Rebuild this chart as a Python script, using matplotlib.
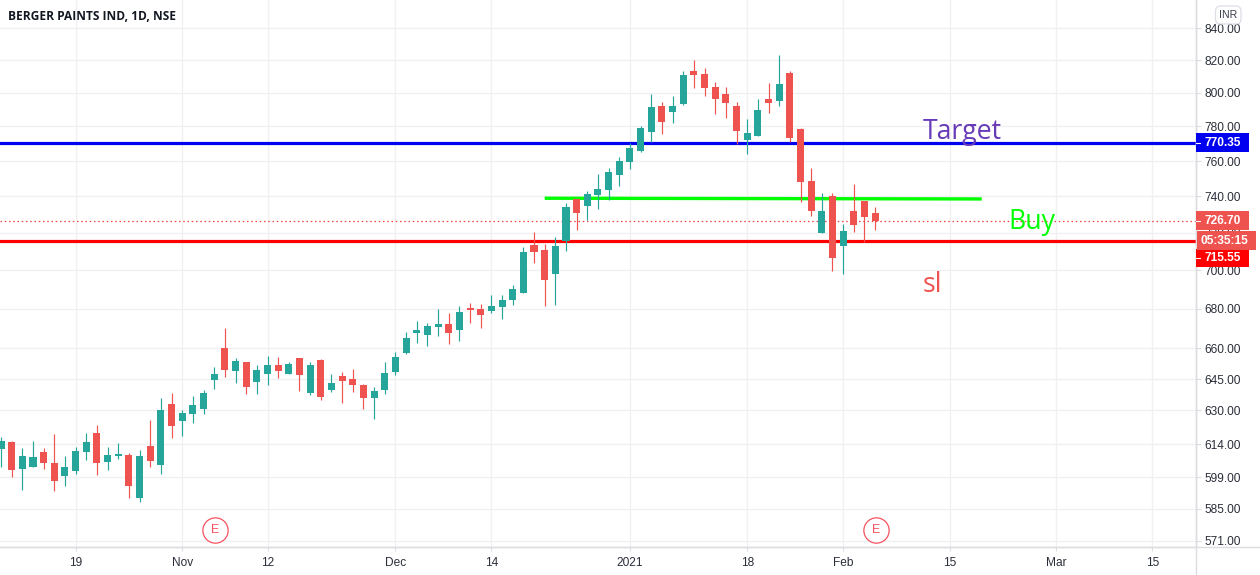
import matplotlib
matplotlib.use("Agg")
import matplotlib.pyplot as plt
from matplotlib.patches import FancyBboxPatch, Rectangle
from matplotlib.ticker import NullLocator, NullFormatter

# ---- data (INR) ----
highs = [617.6,615.7,612.5,615.7,612.5,619.0,608.8,612.9,619.5,623.2,612.9,614.8,610.1,611.5,625.5,635.9,638.3,630.2,636.8,639.8,
         650.9,670.4,655.3,653.4,651.9,656.3,655.8,653.4,655.3,653.4,654.8,647.5,648.5,650.0,642.7,641.2,653.4,658.2,668.3,673.9,
         672.8,679.9,677.9,681.5,683.0,682.5,687.1,687.1,692.4,712.5,720.6,714.1,717.9,736.4,738.6,743.1,752.7,756.1,762.3,770.4,
         780.4,799.2,794.5,798.1,813.4,820.1,815.2,806.7,803.6,794.5,784.5,796.3,806.1,823.2,813.4,779.2,756.1,742.0,742.0,725.0,
         747.1,737.5,734.2]
body_tops = [615.7,615.2,608.8,608.3,610.6,605.7,603.8,611.0,615.2,619.5,609.2,609.7,609.2,608.8,613.4,630.2,633.0,628.8,632.6,638.3,
             647.5,660.2,653.9,653.4,649.5,651.9,651.9,652.4,655.3,651.9,654.3,643.2,646.6,645.1,642.2,639.3,648.0,655.8,665.2,669.3,
             671.3,672.3,672.3,678.4,680.4,679.9,681.5,684.5,690.3,709.8,713.6,710.8,713.0,734.2,738.6,741.4,744.2,753.8,760.1,767.5,
             779.2,791.6,792.2,792.2,811.0,813.4,811.6,803.6,799.2,792.2,776.3,789.8,796.3,805.5,812.2,778.6,748.8,732.0,740.3,721.1,
             732.0,737.5,730.9]
body_bottoms = [612.0,602.4,602.9,603.8,605.7,597.5,599.7,602.0,610.6,605.7,606.1,608.8,595.2,589.7,606.5,604.7,622.7,625.1,628.3,630.7,
                644.6,649.5,649.0,641.2,643.6,647.5,649.0,647.5,647.0,638.3,636.3,639.8,644.1,642.2,635.9,635.9,639.8,648.5,657.7,667.8,
                666.8,670.8,667.8,669.3,679.4,676.9,678.9,681.0,684.5,688.2,709.8,695.1,698.2,715.7,730.9,734.7,740.8,743.7,752.2,759.5,
                765.7,776.9,782.8,788.6,793.3,811.0,803.1,796.3,793.9,777.5,772.2,774.5,793.9,795.1,773.4,748.2,732.0,720.0,706.6,713.0,
                724.4,728.8,726.6]
lows = [603.8,599.2,593.4,603.8,602.9,592.9,595.2,600.6,607.0,600.2,602.4,607.4,589.7,588.0,603.8,600.6,617.1,618.1,624.1,628.3,
        640.3,646.1,643.2,637.8,637.8,642.2,645.6,647.5,639.3,637.3,634.9,638.8,633.5,638.8,630.7,626.0,637.8,647.0,657.3,662.7,
        661.2,666.3,662.2,663.7,672.8,670.3,677.9,674.9,682.0,688.2,704.0,681.5,682.0,710.3,721.7,727.1,733.1,738.0,745.9,755.6,
        765.2,770.9,775.7,782.2,792.8,803.1,798.1,787.5,785.1,769.7,764.0,774.5,788.1,792.2,770.9,736.9,729.3,720.0,699.8,698.3,
        720.6,715.3,721.7]
falling = [0,1,0,0,1,1,0,0,0,1,0,0,1,0,1,0,1,0,0,0,
           0,1,0,1,0,0,1,0,1,0,1,0,1,1,1,0,0,0,0,0,
           0,0,1,0,1,1,0,0,0,0,1,1,0,0,1,0,0,0,0,0,
           0,0,1,0,0,1,1,1,1,1,0,0,1,0,1,1,1,0,1,0,
           1,1,1]

price_ticks = [840,820,800,780,760,740,720,700,680,660,645,630,614,599,585,571]
date_positions = [7,17,25,37,46,59,70,79,89,99,108]
date_labels = ['19','Nov','12','Dec','14','2021','18','Feb','15','Mar','15']
target_price = 770.35
stop_price = 715.55
last_price = 726.70
buy_line_x = [51, 92]
buy_line_y = [739.0, 738.6]
earnings_x = [20.07, 82.08]
earnings_y = [575.7, 575.7]

UP, DOWN = '#26a69a', '#ef5350'
GRID, AXIS, TXT = '#f0f0f2', '#dcdde0', '#2a2e39'
W, H = 1260, 575
FONT = 'Liberation Sans'

fig = plt.figure(figsize=(W/100, H/100), dpi=100, facecolor='white')
ax = fig.add_axes([0, (H-547)/H, 1196/W, 547/H])
ax.set_yscale('log')
ax.set_xlim(-0.094, 112.1)
ax.set_ylim(568.4, 857.9)
ax.yaxis.tick_right()
ax.yaxis.set_minor_locator(NullLocator())
ax.yaxis.set_minor_formatter(NullFormatter())
ax.set_yticks(price_ticks, [f'{p:.2f}' for p in price_ticks], fontname=FONT, fontsize=8.6, color=TXT)
ax.set_xticks(date_positions, date_labels, fontname=FONT, fontsize=8.6, color=TXT)
ax.tick_params(axis='y', length=3.6, width=0.8, color=AXIS, pad=2.5)
ax.tick_params(axis='x', length=3, width=0.8, color=AXIS, pad=4.2)
ax.grid(True, color=GRID, lw=1.0, zorder=0)
ax.set_axisbelow(True)
for s in ('top', 'left'):
    ax.spines[s].set_visible(False)
for s in ('bottom', 'right'):
    ax.spines[s].set_color(AXIS)
    ax.spines[s].set_linewidth(1.0)
# axis lines run on to the picture edges
fig.add_artist(plt.Line2D([0, 1], [(H-547)/H]*2, color=AXIS, lw=1.0))
fig.add_artist(plt.Line2D([1196/W]*2, [0, 1], color=AXIS, lw=1.0))

# drawn levels
ax.axhline(target_price, color='#0000f0', lw=2.3, zorder=2)
ax.axhline(stop_price, color='#ff0000', lw=2.3, zorder=2)
ax.axhline(last_price, color='#f0403c', lw=0.9, ls=(0, (1.2, 2.2)), zorder=2)
ax.plot(buy_line_x, buy_line_y, color='#00ff00', lw=2.4, zorder=2, solid_capstyle='butt')

# candles
xs = list(range(len(highs)))
colors = [DOWN if f else UP for f in falling]
ax.vlines(xs, lows, highs, colors=colors, lw=0.85, zorder=3)
ax.bar(xs, [t-b for t, b in zip(body_tops, body_bottoms)], bottom=body_bottoms,
       width=0.66, color=colors, linewidth=0, zorder=4)

# earnings marks
ax.plot(earnings_x, earnings_y, ls='none', marker='o', ms=18.2, mfc='white', mec='#f7525f', mew=0.9, zorder=5, clip_on=False)
for ex, ey in zip(earnings_x, earnings_y):
    ax.text(ex, ey, 'E', color='#f7525f', ha='center', va='center', fontsize=9, fontname=FONT, zorder=6)

def px(x, y):
    return x/W, 1-y/H

# annotations
fig.text(*px(8, 17), 'BERGER PAINTS IND, 1D, NSE', family='Open Sans', weight='bold', fontsize=8.6,
         color='#131722', ha='left', va='center')
fig.text(*px(923, 139.5), 'Target', family='Open Sans', fontsize=19.2, color='#673ab7', ha='left', va='baseline')
fig.text(*px(1008, 229.5), 'Buy', family='Open Sans', fontsize=19.2, color='#00ff00', ha='left', va='baseline')
fig.text(*px(923, 292), 'sl', family='Open Sans', fontsize=19.2, color=DOWN, ha='left', va='baseline')

# price labels on the scale
def tag(x0, x1, y0, y1, color, label, tick=True, cx=None):
    fig.add_artist(Rectangle((x0/W, 1-y1/H), (x1-x0)/W, (y1-y0)/H, transform=fig.transFigure,
                             facecolor=color, edgecolor='none', zorder=10))
    if tick:
        fig.add_artist(plt.Line2D([x0/W, (x0+4)/W], [1-(y0+y1)/2/H]*2, color='white', lw=0.8, zorder=11))
    fig.text((cx if cx else (x0+x1)/2)/W, 1-(y0+y1)/2/H, label, color='white', weight='bold', fontname=FONT,
             fontsize=8.6, ha='center', va='center', zorder=12)

tag(1196, 1249, 133, 152, '#0000f0', f'{target_price:.2f}', cx=1223)
tag(1196, 1249, 249, 267, '#ff0000', f'{stop_price:.2f}', cx=1223)
tag(1196, 1249, 211, 230, DOWN, f'{last_price:.2f}', cx=1223)
tag(1197, 1256, 231, 250, DOWN, '05:35:15', tick=False, cx=1224.5)

# currency button
fig.add_artist(FancyBboxPatch((1215.5/W, 1-24/H), 25.5/W, 18/H, boxstyle='round,pad=0,rounding_size=0.004',
                              transform=fig.transFigure, mutation_aspect=W/H, facecolor='white', edgecolor='#dcdfe6', lw=0.9, zorder=10))
fig.text(*px(1228.5, 15), 'INR', fontname=FONT, fontsize=7.6, color='#3a3e49', ha='center', va='center', zorder=12)

fig.savefig('out.png', dpi=100)
